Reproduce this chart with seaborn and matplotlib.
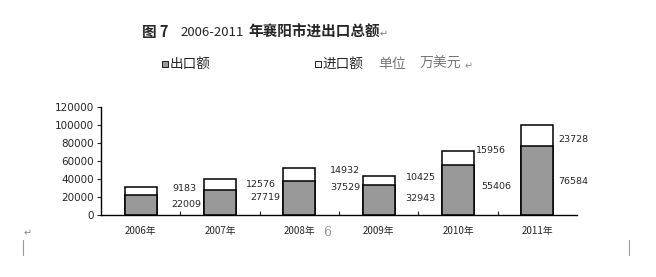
import matplotlib
matplotlib.use("Agg")
import matplotlib.pyplot as plt
import seaborn as sns
import pandas as pd
from matplotlib.patches import Rectangle
from matplotlib.lines import Line2D

# ---- data ----
years = ["2006年", "2007年", "2008年", "2009年", "2010年", "2011年"]
export_vals = [22009, 27719, 37529, 32943, 55406, 76584]
import_vals = [9183, 12576, 14932, 10425, 15956, 23728]
yticks = [0, 20000, 40000, 60000, 80000, 100000, 120000]

# label placements (offset from bar index, y position in data units)
imp_lab_dx = [0.55, 0.52, 0.58, 0.53, 0.42, 0.45]
imp_lab_y = [28900, 34400, 48900, 42200, 72200, 84400]
exp_lab_dx = [0.57, 0.57, 0.58, 0.53, 0.48, 0.45]
exp_lab_y = [12200, 18900, 30000, 17800, 32200, 36700]

sns.set_style("white")
plt.rcParams['font.family'] = ['Noto Sans CJK SC', 'DejaVu Sans']

fig = plt.figure(figsize=(6.56, 2.77), dpi=100)
ax = fig.add_axes([101/656, 1-215/277, 476/656, 108/277])

df = pd.DataFrame({"year": years, "export": export_vals, "import": import_vals})
df["total"] = df["export"] + df["import"]

sns.barplot(data=df, x="year", y="total", color="white", edgecolor="black",
            linewidth=1.1, width=0.4, ax=ax, saturation=1)
sns.barplot(data=df, x="year", y="export", color="#999999", edgecolor="black",
            linewidth=1.1, width=0.4, ax=ax, saturation=1)

ax.set_xlim(-0.5, len(years) - 0.5)
ax.set_ylim(0, 120000)
ax.set_yticks(yticks)
ax.set_yticklabels([str(v) for v in yticks], fontsize=7.5, family='DejaVu Sans')
ax.set_xlabel("")
ax.set_ylabel("")
ax.set_xticks(range(len(years)))
ax.set_xticklabels(years, fontsize=7)
ax.tick_params(axis='x', length=0, pad=8)
ax.tick_params(axis='y', direction='out', length=3, width=0.8, pad=2, left=True)
# category boundary ticks
ax.set_xticks([i + 0.5 for i in range(len(years) - 1)], minor=True)
ax.tick_params(axis='x', which='minor', direction='in', length=3, width=0.8, bottom=True)

for s in ["top", "right"]:
    ax.spines[s].set_visible(False)
for s in ["left", "bottom"]:
    ax.spines[s].set_color("black")
    ax.spines[s].set_linewidth(1.0)

for i in range(len(years)):
    ax.text(i + imp_lab_dx[i], imp_lab_y[i], str(import_vals[i]), ha='center',
            va='center', fontsize=6.8, family='DejaVu Sans')
    ax.text(i + exp_lab_dx[i], exp_lab_y[i], str(export_vals[i]), ha='center',
            va='center', fontsize=6.8, family='DejaVu Sans')

# ---- title ----
ty = 1 - 32/277
fig.text(142/656, ty, "图 7", fontsize=10.5, fontweight='bold', va='center', ha='left')
fig.text(180/656, ty, "2006-2011", fontsize=9.5, fontweight='light', va='center', ha='left')
fig.text(248/656, ty, "年襄阳市进出口总额", fontsize=10.5, fontweight='bold', va='center', ha='left')
fig.text(380/656, ty - 0.01, "↵", fontsize=7, color='#888888', va='center', ha='left',
         family=['DejaVu Sans'])

# ---- legend ----
ly = 1 - 64/277
fig.add_artist(Rectangle((162/656, 1 - 67/277), 6/656, 6/277, transform=fig.transFigure,
                         facecolor='#999999', edgecolor='black', linewidth=0.6))
fig.text(170/656, ly, "出口额", fontsize=9.8, va='center', ha='left')
fig.add_artist(Rectangle((315/656, 1 - 67/277), 6/656, 6/277, transform=fig.transFigure,
                         facecolor='white', edgecolor='black', linewidth=0.6))
fig.text(323/656, ly, "进口额", fontsize=9.8, va='center', ha='left')
fig.text(378/656, ly, "单位", fontsize=10, color='#777777', va='center', ha='left',
         fontweight='light')
fig.text(420/656, ly, "万美元", fontsize=10, color='#777777', va='center', ha='left',
         fontweight='light')
fig.text(465/656, ly - 0.01, "↵", fontsize=7, color='#888888', va='center', ha='left',
         family=['DejaVu Sans'])

# ---- page artifacts ----
fig.text(323/656, 1 - 232/277, "6", fontsize=9, color='#999999', va='center', ha='left',
         family=['DejaVu Serif'])
fig.text(24/656, 1 - 233/277, "↵", fontsize=7, color='#888888', va='center', ha='left',
         family=['DejaVu Sans'])
fig.add_artist(Line2D([23/656, 23/656], [1 - 255/277, 1 - 240/277], transform=fig.transFigure,
                      color='#999999', linewidth=0.8))
fig.add_artist(Line2D([629/656, 629/656], [1 - 255/277, 1 - 240/277], transform=fig.transFigure,
                      color='#999999', linewidth=0.8))

fig.savefig("out.png", dpi=100, facecolor='white')
